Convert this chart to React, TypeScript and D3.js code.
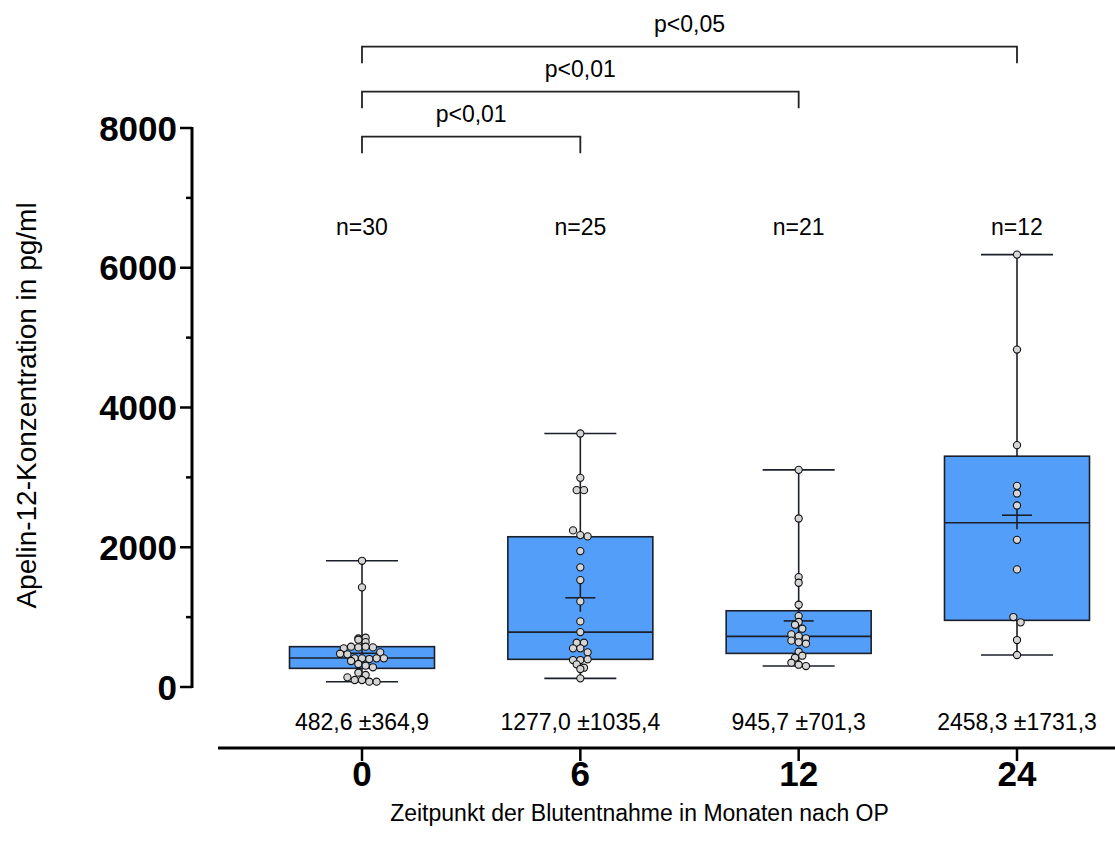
import React from "react";
import * as d3 from "d3";

// Blood sampling time points (months after surgery)
const groups = ["0", "6", "12", "24"];

// Individual Apelin-12 measurements per time point (pg/ml)
const values0 = [1806, 1426, 694, 677, 705, 643, 553, 577, 567, 577, 567, 476, 467, 496, 410, 410, 400, 410, 372, 410, 329, 305, 282, 205, 172, 138, 100, 100, 76, 76];
const values6 = [3628, 2993, 2817, 2817, 2241, 2174, 2155, 1945, 1712, 1530, 1225, 939, 786, 634, 634, 553, 553, 496, 386, 386, 396, 324, 276, 257, 124];
const values12 = [3108, 2412, 1573, 1492, 1177, 1015, 930, 891, 834, 753, 729, 696, 663, 639, 620, 505, 419, 448, 348, 319, 300];
const values24 = [6188, 4829, 3461, 2879, 2770, 2598, 2106, 1683, 1001, 925, 672, 458];
const seriesValues = [values0, values6, values12, values24];

// Box statistics: min, Q1, median, Q3, max
const boxMin = [76, 124, 300, 458];
const boxQ1 = [267, 396, 481, 954];
const boxMedian = [415, 786, 724, 2350];
const boxQ3 = [577, 2150, 1091, 3303];
const boxMax = [1806, 3628, 3108, 6188];

// Mean and standard deviation
const means = [482.6, 1277.0, 945.7, 2458.3];
const sds = [364.9, 1035.4, 701.3, 1731.3];
const counts = [30, 25, 21, 12];

// Significance comparisons against baseline
const comparisons = [
  { from: "0", to: "6", label: "p<0,01" },
  { from: "0", to: "12", label: "p<0,01" },
  { from: "0", to: "24", label: "p<0,05" },
];

const yTicks = [0, 2000, 4000, 6000, 8000];
const yMinorTicks = [1000, 3000, 5000, 7000];

const W = 1115;
const H = 852;
const FONT = "Arial, 'Liberation Sans', Helvetica, sans-serif";

const fmt = (v: number) => v.toFixed(1).replace(".", ",");

// Prism-like scatter: bin points by pixel row, spread each row symmetrically
function swarm(vals: number[], y: (v: number) => number, step: number) {
  const bins = new Map<number, number[]>();
  vals.forEach((v) => {
    const k = Math.round(y(v) / step);
    if (!bins.has(k)) bins.set(k, []);
    bins.get(k)!.push(v);
  });
  const out: { v: number; dx: number }[] = [];
  bins.forEach((arr) => {
    const n = arr.length;
    arr.forEach((v, i) => out.push({ v, dx: (i - (n - 1) / 2) * step }));
  });
  return out;
}

export default function App() {
  const x = d3.scalePoint<string>().domain(groups).range([362, 1017]);
  const y = d3.scaleLinear().domain([0, 8000]).range([687, 128]);
  const boxHalf = 72.5;
  const capHalf = 36;
  const stroke = "#1b1f2a";
  const boxFill = "#539ef9";

  const axisX0 = 192;
  const axisY = 748;

  return (
    <svg width={W} height={H} style={{ position: "absolute", left: 0, top: 0, background: "#fff" }} fontFamily={FONT}>
      {/* y axis */}
      <line x1={axisX0} x2={axisX0} y1={y(8000) - 1} y2={y(0) + 1} stroke="#000" strokeWidth={3} />
      {yTicks.map((t) => (
        <g key={"yt" + t}>
          <line x1={axisX0 - 12} x2={axisX0} y1={y(t)} y2={y(t)} stroke="#000" strokeWidth={2.5} />
          <text x={axisX0 - 15} y={y(t)} dy="0.36em" textAnchor="end" fontSize={35} fontWeight="bold">
            {t}
          </text>
        </g>
      ))}
      {yMinorTicks.map((t) => (
        <line key={"ym" + t} x1={axisX0 - 6} x2={axisX0} y1={y(t)} y2={y(t)} stroke="#000" strokeWidth={2.5} />
      ))}
      <text
        transform={`translate(36, ${(y(0) + y(8000)) / 2 - 2}) rotate(-90)`}
        textAnchor="middle"
        fontSize={28}
      >
        Apelin-12-Konzentration in pg/ml
      </text>

      {/* x axis */}
      <line x1={218} x2={W} y1={axisY} y2={axisY} stroke="#000" strokeWidth={3} />
      {groups.map((g) => (
        <g key={"xt" + g}>
          <line x1={x(g)!} x2={x(g)!} y1={axisY} y2={axisY + 13} stroke="#000" strokeWidth={2.5} />
          <text x={x(g)!} y={786} textAnchor="middle" fontSize={35} fontWeight="bold">
            {g}
          </text>
        </g>
      ))}
      <text x={(x("0")! + x("24")!) / 2 - 50} y={821} textAnchor="middle" fontSize={23}>
        Zeitpunkt der Blutentnahme in Monaten nach OP
      </text>

      {/* boxes */}
      {groups.map((g, i) => {
        const cx = x(g)!;
        return (
          <g key={"box" + g}>
            <line x1={cx} x2={cx} y1={y(boxMax[i])} y2={y(boxMin[i])} stroke={stroke} strokeWidth={1.6} />
            <line x1={cx - capHalf} x2={cx + capHalf} y1={y(boxMax[i])} y2={y(boxMax[i])} stroke={stroke} strokeWidth={1.6} />
            <line x1={cx - capHalf} x2={cx + capHalf} y1={y(boxMin[i])} y2={y(boxMin[i])} stroke={stroke} strokeWidth={1.6} />
            <rect
              x={cx - boxHalf}
              y={y(boxQ3[i])}
              width={boxHalf * 2}
              height={y(boxQ1[i]) - y(boxQ3[i])}
              fill={boxFill}
              stroke={stroke}
              strokeWidth={1.6}
            />
            <line x1={cx - boxHalf} x2={cx + boxHalf} y1={y(boxMedian[i])} y2={y(boxMedian[i])} stroke={stroke} strokeWidth={1.6} />
            {/* mean marker */}
            <line x1={cx - 15} x2={cx + 15} y1={y(means[i])} y2={y(means[i])} stroke={stroke} strokeWidth={1.6} />
            <line x1={cx} x2={cx} y1={y(means[i]) - 14} y2={y(means[i]) + 14} stroke={stroke} strokeWidth={1.6} />
          </g>
        );
      })}

      {/* individual points */}
      {groups.map((g, i) => {
        const cx = x(g)!;
        return (
          <g key={"pts" + g}>
            {swarm(seriesValues[i], (v) => y(v), 7.3).map((p, j) => (
              <circle key={j} cx={cx + p.dx} cy={y(p.v)} r={3.6} fill="#d6d6d6" stroke="#111" strokeWidth={1.1} />
            ))}
          </g>
        );
      })}

      {/* n labels */}
      {groups.map((g, i) => (
        <text key={"n" + g} x={x(g)!} y={235} textAnchor="middle" fontSize={23}>
          n={counts[i]}
        </text>
      ))}

      {/* mean ± SD */}
      {groups.map((g, i) => (
        <text key={"m" + g} x={x(g)!} y={730} textAnchor="middle" fontSize={23}>
          {fmt(means[i])} ±{fmt(sds[i])}
        </text>
      ))}

      {/* significance brackets */}
      {comparisons.map((c, k) => {
        const ly = 136.7 - k * 45;
        const x1 = x(c.from)!;
        const x2 = x(c.to)!;
        return (
          <g key={"cmp" + k}>
            <path
              d={`M${x1},${ly + 16.5}V${ly}H${x2}V${ly + 16.5}`}
              fill="none"
              stroke="#222"
              strokeWidth={1.8}
            />
            <text x={(x1 + x2) / 2} y={ly - 15} textAnchor="middle" fontSize={23}>
              {c.label}
            </text>
          </g>
        );
      })}
    </svg>
  );
}
